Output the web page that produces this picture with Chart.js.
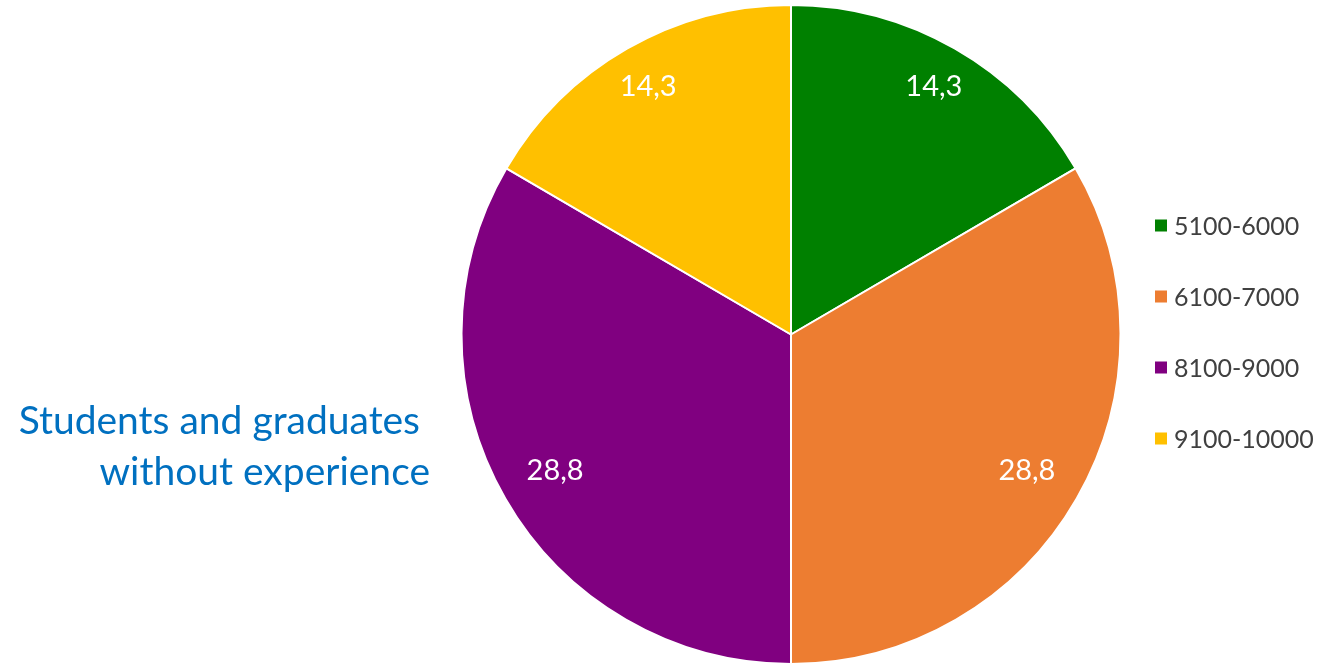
<!DOCTYPE html>
<html>
<head>
<meta charset="utf-8">
<script src="https://cdn.jsdelivr.net/npm/chart.js@4.4.0/dist/chart.umd.min.js"></script>
<style>
  html, body { margin: 0; padding: 0; background: #fff; }
  #wrap { position: relative; width: 1328px; height: 665px; }
  #title {
    position: absolute; right: 898px; top: 394px;
    font-family: Lato, sans-serif; font-size: 39px; line-height: 51px;
    color: #0070C0; text-align: right; white-space: nowrap;
  }
</style>
</head>
<body>
<div id="wrap">
  <canvas id="myChart" width="1328" height="665"></canvas>
  <div id="title">Students and graduates&nbsp;<br>without experience</div>
</div>
<script>
var ranges = ['5100-6000', '6100-7000', '8100-9000', '9100-10000'];
var shares = [14.3, 28.8, 28.8, 14.3];
var sliceColors = ['#008000', '#ED7D31', '#800080', '#FFC000'];

// white value labels near the outer edge of each slice
var sliceLabels = {
  id: 'sliceLabels',
  afterDatasetsDraw: function (chart) {
    var ctx = chart.ctx;
    var meta = chart.getDatasetMeta(0);
    ctx.save();
    ctx.font = '29px Lato';
    ctx.fillStyle = '#ffffff';
    ctx.textAlign = 'center';
    ctx.textBaseline = 'middle';
    meta.data.forEach(function (arc, i) {
      var p = arc.getProps(['x', 'y', 'startAngle', 'endAngle', 'outerRadius'], true);
      var mid = (p.startAngle + p.endAngle) / 2;
      var txt = shares[i].toFixed(1).replace('.', ',');
      var w = ctx.measureText(txt).width;
      var ext = Math.abs(Math.cos(mid)) * w / 2 + Math.abs(Math.sin(mid)) * 11;
      var d = p.outerRadius - 2.3 * ext + 12;
      ctx.fillText(txt, p.x + Math.cos(mid) * d, p.y + Math.sin(mid) * d + 1);
    });
    ctx.restore();
  }
};

// legend on the right, stacked with wide spacing
var sideLegend = {
  id: 'sideLegend',
  afterDraw: function (chart) {
    var ctx = chart.ctx;
    var labels = chart.data.labels;
    var colors = chart.data.datasets[0].backgroundColor;
    var step = 71;
    var top = 332 - step * (labels.length - 1) / 2;
    ctx.save();
    ctx.font = '25px Lato';
    ctx.textBaseline = 'middle';
    labels.forEach(function (lab, i) {
      var y = top + i * step;
      ctx.fillStyle = colors[i];
      ctx.fillRect(1155, y - 6, 12, 12);
      ctx.fillStyle = '#404040';
      ctx.fillText(lab, 1174, y + 1);
    });
    ctx.restore();
  }
};

var myChart = new Chart(document.getElementById('myChart'), {
  type: 'pie',
  data: {
    labels: ranges,
    datasets: [{
      data: shares,
      backgroundColor: sliceColors,
      borderColor: '#ffffff',
      borderWidth: 2
    }]
  },
  options: {
    responsive: false,
    animation: false,
    layout: { padding: { left: 460, right: 206, top: 4, bottom: 0 } },
    plugins: {
      legend: { display: false },
      tooltip: { enabled: false }
    }
  },
  plugins: [sliceLabels, sideLegend]
});
</script>
</body>
</html>
